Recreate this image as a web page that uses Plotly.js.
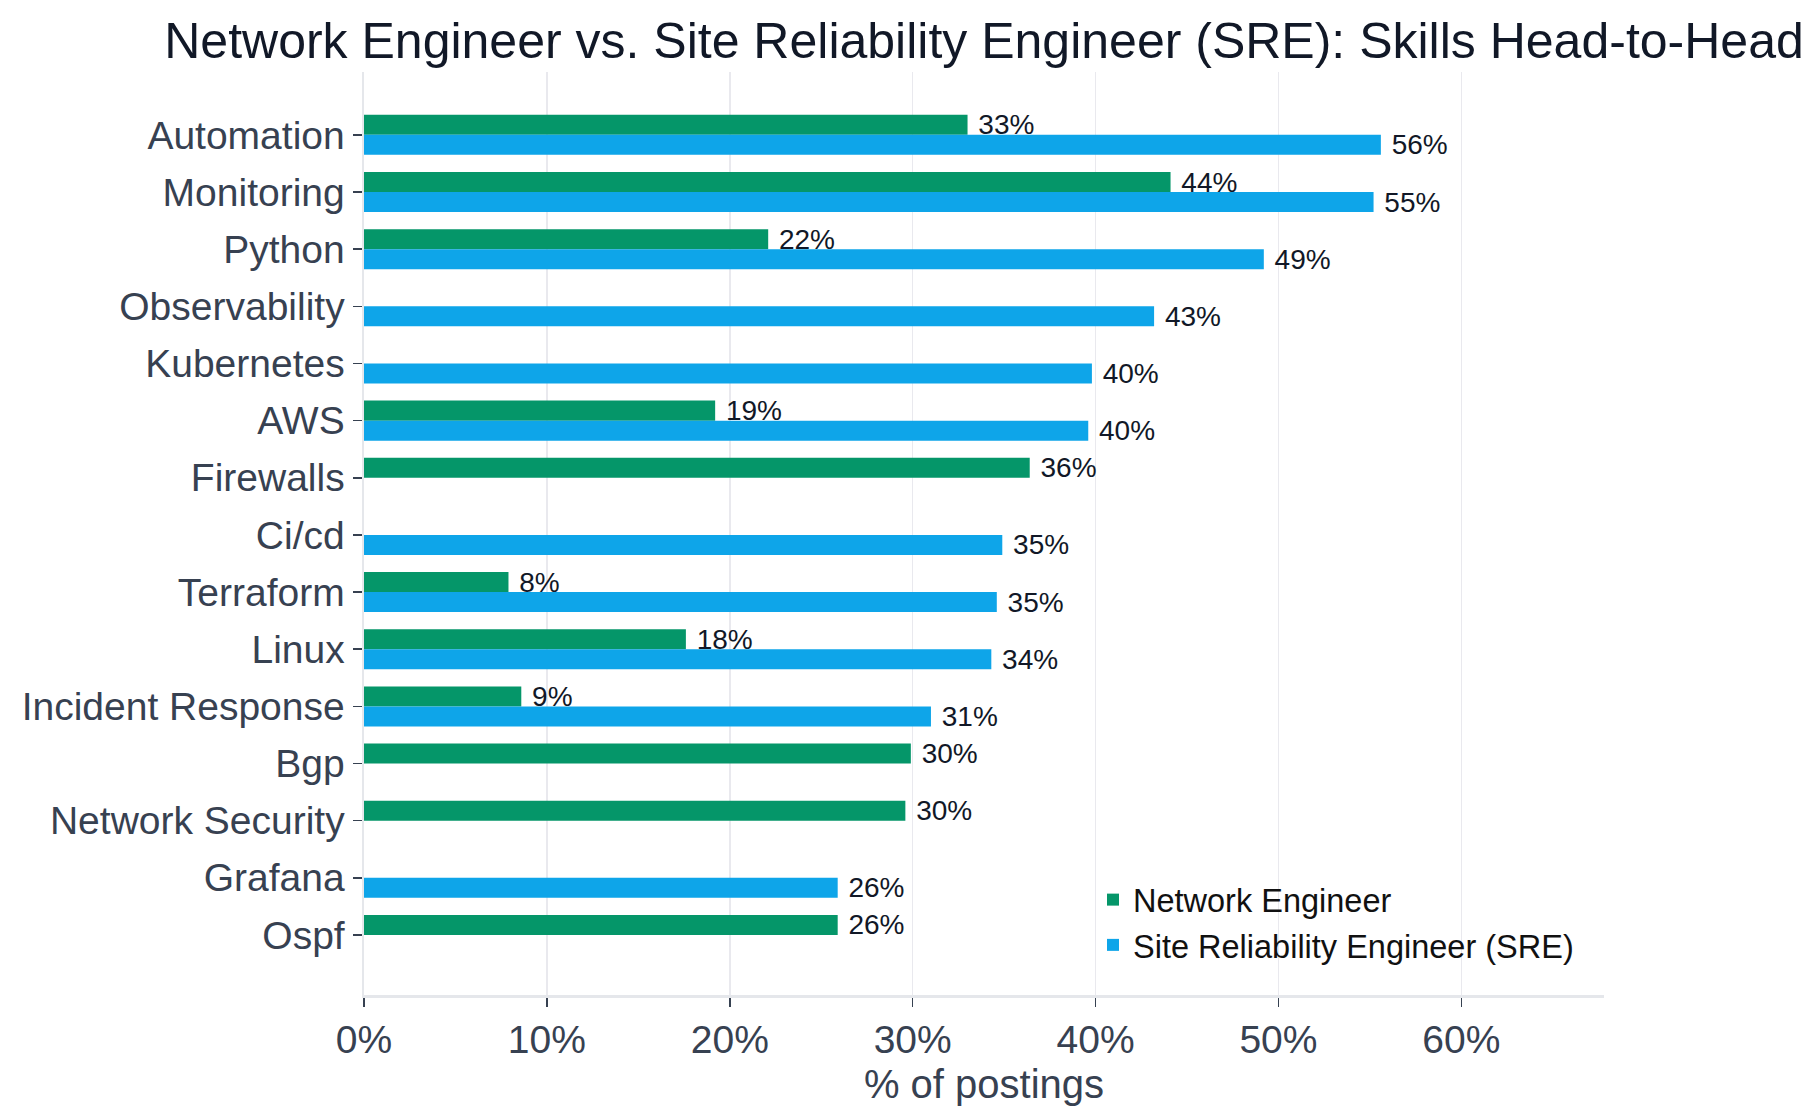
<!DOCTYPE html>
<html>
<head>
<meta charset="utf-8">
<script src="https://cdn.plot.ly/plotly-3.0.1.min.js"></script>
<style>
  html, body { margin: 0; padding: 0; background: #ffffff; }
  #chart { width: 1819px; height: 1120px; }
</style>
</head>
<body>
<div id="chart"></div>
<script>
// ---- Data ----
const skills = [
  "Automation", "Monitoring", "Python", "Observability", "Kubernetes",
  "AWS", "Firewalls", "Ci/cd", "Terraform", "Linux",
  "Incident Response", "Bgp", "Network Security", "Grafana", "Ospf"
];
// % of postings, Network Engineer (null = not among its top skills)
const networkEngineer = [
  33.0, 44.1, 22.1, null, null,
  19.2, 36.4, null, 7.9, 17.6,
  8.6, 29.9, 29.6, null, 25.9
];
// % of postings, Site Reliability Engineer (SRE)
const sre = [
  55.6, 55.2, 49.2, 43.2, 39.8,
  39.6, null, 34.9, 34.6, 34.3,
  31.0, null, null, 25.9, null
];
const seriesNames = ["Network Engineer", "Site Reliability Engineer (SRE)"];
const xTickVals = [0, 10, 20, 30, 40, 50, 60];
const xTickLabels = ["0%", "10%", "20%", "30%", "40%", "50%", "60%"];

// ---- Styling ----
const FONT = "Liberation Sans, Arial, Helvetica, sans-serif";
const GREEN = "#059669";
const BLUE = "#0ea5e9";

const labelFont = { family: FONT, size: 28, color: "#111827" };

const traces = [
  {
    type: "bar", orientation: "h",
    name: seriesNames[0], legendgroup: "a",
    y: skills, x: networkEngineer,
    marker: { color: GREEN, line: { width: 0 } },
    texttemplate: "\u00a0%{x:.0f}%", textposition: "outside",
    textfont: labelFont, constraintext: "none", cliponaxis: false,
    hoverinfo: "x+y"
  },
  {
    type: "bar", orientation: "h",
    name: seriesNames[1], legendgroup: "b",
    y: skills, x: sre,
    marker: { color: BLUE, line: { width: 0 } },
    texttemplate: "\u00a0%{x:.0f}%", textposition: "outside",
    textfont: labelFont, constraintext: "none", cliponaxis: false,
    hoverinfo: "x+y"
  }
];

const layout = {
  width: 1819, height: 1120,
  paper_bgcolor: "#ffffff", plot_bgcolor: "#ffffff",
  font: { family: FONT, color: "#374151" },
  margin: { l: 364, r: 215, t: 72, b: 125, pad: 0 },
  barmode: "group", bargap: 0.3, bargroupgap: 0,
  title: {
    text: "Network Engineer vs. Site Reliability Engineer (SRE): Skills Head-to-Head",
    font: { family: FONT, size: 50, color: "#111827" },
    xref: "paper", x: 0.5, xanchor: "center",
    yref: "container", y: 0.964, yanchor: "middle"
  },
  xaxis: {
    range: [0, 67.8],
    tickmode: "array", tickvals: xTickVals, ticktext: xTickLabels,
    tickfont: { family: FONT, size: 39, color: "#374151" },
    ticks: "outside", ticklen: 9, tickwidth: 1.5, tickcolor: "#374151",
    showgrid: true, gridcolor: "#e9e9ee", gridwidth: 1.5,
    zeroline: false,
    showline: true, linecolor: "#e5e7eb", linewidth: 2.5,
    title: { text: "% of postings", font: { family: FONT, size: 40, color: "#374151" }, standoff: 10 },
    fixedrange: true
  },
  yaxis: {
    type: "category", categoryorder: "array", categoryarray: skills,
    range: [15.05, -1.10],
    tickfont: { family: FONT, size: 39, color: "#374151" },
    ticks: "outside", ticklen: 9, tickwidth: 1.5, tickcolor: "#374151",
    showgrid: false, zeroline: false,
    showline: true, linecolor: "#e5e7eb", linewidth: 2.5,
    fixedrange: true
  },
  showlegend: true,
  legend: {
    x: (1093 - 364) / 1240, xanchor: "left",
    y: (995 - 872) / 923, yanchor: "top",
    bgcolor: "rgba(255,255,255,0)", borderwidth: 0,
    font: { family: FONT, size: 32.5, color: "#111111" },
    traceorder: "grouped", tracegroupgap: 0
  }
};

Plotly.newPlot("chart", traces, layout, { displayModeBar: false, staticPlot: true });
</script>
</body>
</html>
